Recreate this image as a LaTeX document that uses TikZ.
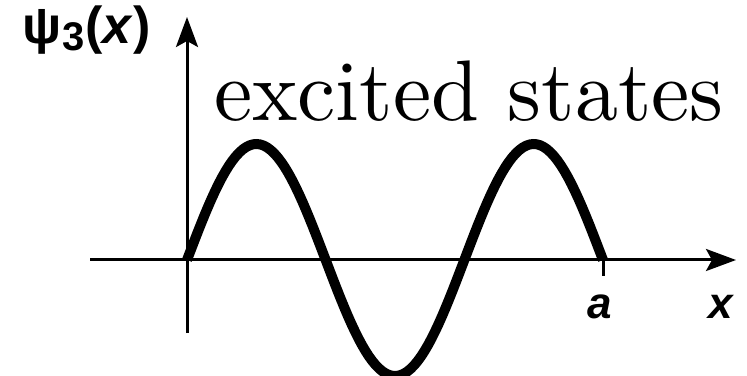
\documentclass[tikz,border=0pt]{standalone}
\usepackage{fontspec}
\newfontfamily\lblfont{Liberation Sans}
\newfontfamily\ttlfont{lmroman10-regular.otf}
\usetikzlibrary{arrows.meta}
\tikzset{
  psaxis/.style={line width=3pt, -{Stealth[length=30pt, width=22pt, inset=6pt]}},
  pswave/.style={line width=10pt},
  pslabel/.style={font=\lblfont\bfseries\fontsize{44}{48}\selectfont, inner sep=0pt},
  pstitle/.style={font=\ttlfont\fontsize{86}{90}\selectfont, inner sep=0pt},
}
\begin{document}
\begin{tikzpicture}[x=1pt, y=1pt]
  \useasboundingbox (0,0) rectangle (747,375);
  \coordinate (o) at (187,115);
  \coordinate (xl) at (90,115);
  \coordinate (xr) at (736,115);
  \coordinate (yb) at (187,42);
  \coordinate (yt) at (187,358);
  \coordinate (ta) at (603,115);
  \coordinate (tb) at (603,99);
  % axes
  \draw[psaxis] (xl) -- (xr);
  \draw[psaxis] (yb) -- (yt);
  \draw[line width=3pt] (ta) -- (tb);
  % third state, three half waves between 0 and a
  \draw[pswave] plot[domain=0:416, samples=120] ({187+\x},{115+116*sin(\x/416*540)});
  \node[pslabel, anchor=base west, font=\lblfont\bfseries\fontsize{52}{56}\selectfont] (psi) at (22,331) {ψ\kern1pt{\fontsize{40}{42}\selectfont\raisebox{-7pt}{3}}\kern1pt(\textit{x})};
  \node[pslabel, anchor=center] (la) at (600,68) {\textit{a}};
  \node[pslabel, anchor=center] (lx) at (721,68) {\textit{x}};
  \node[pstitle, anchor=base west] (ttl) at (214,254) {excited states};
\end{tikzpicture}
\end{document}
